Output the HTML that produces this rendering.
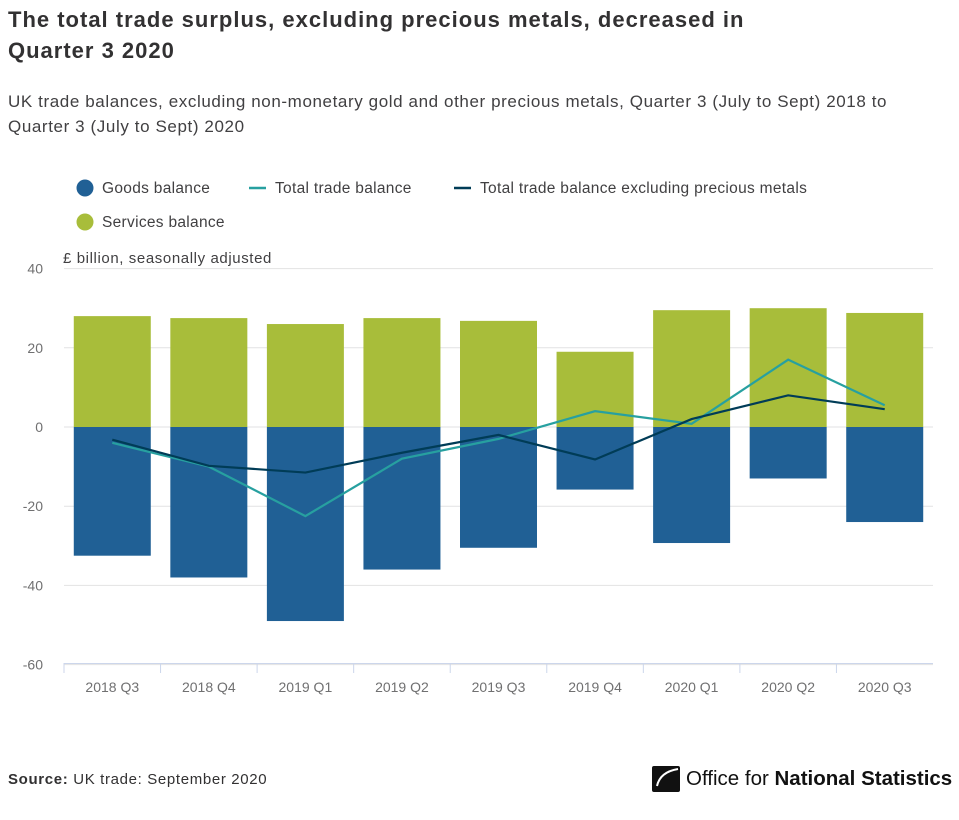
<!DOCTYPE html>
<html><head><meta charset="utf-8"><style>
body{margin:0;width:959px;height:820px;background:#fff;font-family:"Liberation Sans",sans-serif;overflow:hidden;position:relative}
h1{position:absolute;left:8px;top:4px;margin:0;font-size:22px;line-height:31px;color:#323132;font-weight:bold;width:790px;letter-spacing:1px}
.sub{position:absolute;left:8px;top:89px;font-size:17px;line-height:25px;color:#414042;width:905px;letter-spacing:0.6px}
.src{position:absolute;left:8px;top:771px;font-size:15px;color:#323132;letter-spacing:0.65px}
.logo{position:absolute;left:652px;top:766px;font-size:20.5px;color:#111;display:flex;align-items:center}
</style></head><body>
<h1>The total trade surplus, excluding precious metals, decreased in Quarter 3 2020</h1>
<div class="sub">UK trade balances, excluding non-monetary gold and other precious metals, Quarter 3 (July to Sept) 2018 to Quarter 3 (July to Sept) 2020</div>
<svg id="chart" width="959" height="760" style="position:absolute;left:0;top:0"></svg>
<div class="src"><b>Source:</b> UK trade: September 2020</div>
<div class="logo"><svg width="28" height="26" viewBox="0 0 28 26"><rect width="28" height="26" rx="2" fill="#111"/><path d="M26 3 Q8 6 5 20" stroke="#fff" stroke-width="2" fill="none"/></svg><span style="margin-left:6px">Office for <b style="font-weight:600">National Statistics</b></span></div>
<script>
const categories=["2018 Q3","2018 Q4","2019 Q1","2019 Q2","2019 Q3","2019 Q4","2020 Q1","2020 Q2","2020 Q3"];
const goods=[-32.5,-38,-49,-36,-30.5,-15.8,-29.3,-13,-24];
const services=[28,27.5,26,27.5,26.8,19,29.5,30,28.8];
const total=[-4,-10,-22.5,-8,-3,4,0.8,17,5.5];
const totalExcl=[-3.2,-9.8,-11.5,-6.5,-2,-8.2,2,8,4.5];
const yTicks=[40,20,0,-20,-40,-60];
const NS="http://www.w3.org/2000/svg",svg=document.getElementById('chart');
const L=64,R=933,y0=427,pp=79.2/20,bw=(R-L)/categories.length;
const y=v=>y0-v*pp, xc=i=>L+bw*(i+0.5);
function mk(t,a,p){const e=document.createElementNS(NS,t);for(const k in a)e.setAttribute(k,a[k]);(p||svg).appendChild(e);return e;}
yTicks.forEach(t=>{
 const g=mk('line',{x1:L,x2:R,y1:y(t),y2:y(t),stroke:'#e2e2e3'});
 
 
 const tx=mk('text',{x:43,y:y(t)+5,'text-anchor':'end','font-size':14,fill:'#707071'});tx.textContent=t;
 
 
});
const u=mk('text',{x:63,y:263,'font-size':15,fill:'#414042','letter-spacing':0.6});u.textContent='£ billion, seasonally adjusted';


categories.forEach((c,i)=>{
 const bx=xc(i)-38.5;
 const s=mk('rect',{x:bx,y:y(services[i]),width:77,height:y(0)-y(services[i]),fill:'#a8bd3a'});
 
 
 const g=mk('rect',{x:bx,y:y(0),width:77,height:y(goods[i])-y(0),fill:'#206095'});
 
 
 const tx=mk('text',{x:xc(i),y:692,'text-anchor':'middle','font-size':14,fill:'#707071'});tx.textContent=c;
 
 
 const tk=mk('line',{x1:L+bw*i,x2:L+bw*i,y1:663,y2:673,stroke:'#ccd6eb'});
 
 
});
const ax=mk('line',{x1:L,x2:R,y1:663.5,y2:663.5,stroke:'#ccd6eb'});


function line(d,col,name){const p=mk('polyline',{points:d.map((v,i)=>xc(i)+','+y(v)).join(' '),fill:'none',stroke:col,'stroke-width':2.2});
 
 }
line(total,'#27a0a0','total-trade-line');
line(totalExcl,'#003c57','total-excl-precious-line');
function leg(x,yy,type,col,label,name){const g=mk('g',{});
 
 
 if(type==='c')mk('circle',{cx:x+9,cy:yy,r:8.5,fill:col},g);else mk('line',{x1:x,x2:x+17,y1:yy,y2:yy,stroke:col,'stroke-width':2.5},g);
 const t=mk('text',{x:x+26,y:yy+5,'font-size':15.5,fill:'#414042','letter-spacing':0.3},g);t.textContent=label;}
leg(76,188,'c','#206095','Goods balance','legend-goods');
leg(249,188,'l','#27a0a0','Total trade balance','legend-total');
leg(454,188,'l','#003c57','Total trade balance excluding precious metals','legend-total-excl');
leg(76,222,'c','#a8bd3a','Services balance','legend-services');
</script>
</body></html>
